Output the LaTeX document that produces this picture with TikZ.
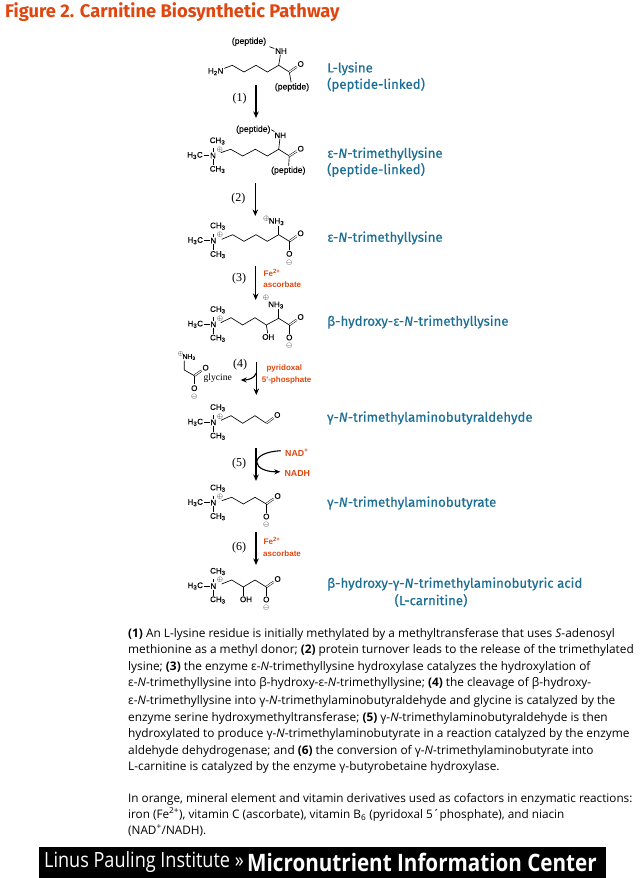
\documentclass[tikz,border=0pt]{standalone}
\usepackage{fontspec}
\usepackage{amssymb}
\usepackage{xcolor}
\usepackage{tikz}
\usetikzlibrary{arrows.meta, positioning, calc}
\setmainfont{Open Sans}
\newfontfamily\chemfont[FakeBold=0.2]{Liberation Sans}
\newfontfamily\cofacfont{Liberation Sans}
\newfontfamily\stepfont{Liberation Serif}
\newfontfamily\namefont[FakeBold=0.5]{Fira Sans}
\newfontfamily\titlefont{Fira Sans}
\newfontfamily\bandfont[FakeStretch=0.86]{Open Sans}
\definecolor{cofactor}{HTML}{E0460F}
\definecolor{namecol}{HTML}{1B6F97}
\tikzset{
  atom/.style={inner sep=0.7pt, font=\chemfont\fontsize{8}{9}\selectfont},
  pepname/.style={inner sep=0.7pt, font=\chemfont\fontsize{8.7}{9}\selectfont},
  charge/.style={inner sep=0pt, font=\fontsize{7.5}{8}\selectfont},
  bond/.style={line width=0.65pt, black},
  dblbond/.style={line width=0.5pt, double, double distance=1.1pt, black},
  rxn/.style={line width=1.3pt, -{Stealth[length=6.5pt,width=5.5pt]}},
  sidearrow/.style={line width=1.1pt, -{Stealth[length=6pt,width=5pt]}},
  stepnum/.style={font=\stepfont\fontsize{12}{14}\selectfont},
  cofac/.style={inner sep=0pt, text=cofactor, font=\cofacfont\bfseries\fontsize{8}{10}\selectfont},
  molname/.style={anchor=west, inner sep=0pt, text=namecol, font=\namefont\fontsize{13.25}{16}\selectfont},
}
% trimethylammonium end: name, x, y of the nitrogen
\newcommand{\headgroup}[3]{%
  \begin{scope}[shift={(#2,#3)}]
    \node[atom] (#1n) at (0,0) {N};
    \node[atom] (#1l) at (-18,0) {H\textsubscript{3}C};
    \node[atom] (#1u) at (4.5,-14.5) {CH\textsubscript{3}};
    \node[atom] (#1d) at (4.5,14) {CH\textsubscript{3}};
    \node[charge] (#1p) at (6.8,-6) {$\oplus$};
    \draw[bond] (#1l) -- (#1n);
    \draw[bond] (#1n.north) -- ++(0,-3.5);
    \draw[bond] (#1n) -- (#1n |- #1d.north);
  \end{scope}}
% carboxylate end: name, x, y of the carbon
\newcommand{\acidgroup}[3]{%
  \begin{scope}[shift={(#2,#3)}]
    \coordinate (#1c) at (0,0);
    \node[atom] (#1o) at (11.3,-8) {O};
    \node[atom] (#1m) at (0,12.5) {O};
    \node[charge] (#1e) at (0,21) {$\ominus$};
    \draw[dblbond] (#1c) -- (#1o);
    \draw[bond] (#1c) -- (#1m);
  \end{scope}}
\begin{document}
\begin{tikzpicture}[x=1pt,y=-1pt]
\useasboundingbox (0,0) rectangle (640,878);
\node[anchor=west, inner sep=0pt, text=cofactor, font=\titlefont\bfseries\fontsize{18.3}{20}\selectfont] (title) at (5,12) {Figure 2. Carnitine Biosynthetic Pathway};

% L-lysine
\node[atom] (aamine) at (215.7,71.7) {H\textsubscript{2}N};
\node[atom] (anh) at (281,51) {NH};
\node[pepname] (apepa) at (249,41.7) {(peptide)};
\node[pepname] (apepb) at (292,87.3) {(peptide)};
\node[atom] (ao) at (300.7,64) {O};
\coordinate (ac) at (289.3,72);
\coordinate (aca) at (278.7,65.3);
\coordinate (apepc) at (269.5,46.7);
\draw[bond] (aamine) -- (232.3,65.3) -- (244,72) -- (256,65.3) -- (267.3,72) -- (aca) -- (ac) -- (apepb);
\draw[bond] (aca) -- (anh);
\draw[bond] (apepc) -- (anh);
\draw[dblbond] (ac) -- (ao);

% peptide-linked trimethyllysine
\headgroup{b}{213}{155.5}
\node[atom] (bnh) at (280.3,135.3) {NH};
\node[pepname] (bpepa) at (253.3,129.7) {(peptide)};
\node[pepname] (bpepb) at (288.3,170.7) {(peptide)};
\node[atom] (bo) at (300.7,148.7) {O};
\coordinate (bc) at (289.3,156);
\coordinate (bca) at (278.7,149.3);
\draw[bond] (220.7,152.7) -- (230.7,149.3) -- (242.7,156) -- (255.3,149.3) -- (267.3,156) -- (bca) -- (bc) -- (bpepb);
\draw[bond] (bca) -- (bnh);
\draw[bond] (bpepa.east) -- (bnh);
\draw[dblbond] (bc) -- (bo);

% free trimethyllysine
\headgroup{c}{213.3}{240.7}
\acidgroup{c}{289.3}{241.3}
\node[atom] (cnh) at (276.5,221.7) {NH\textsubscript{3}};
\node[charge] (cpl) at (266.2,218.7) {$\oplus$};
\coordinate (cca) at (278.7,234.7);
\draw[bond] (221.7,239.3) -- (232.7,234.7) -- (244,241.3) -- (256,234.7) -- (267.3,241.3) -- (cca) -- (cc);
\draw[bond] (cca) -- (cca |- cnh.south);

% beta-hydroxy
\headgroup{d}{213.3}{324.3}
\acidgroup{d}{289.3}{325}
\node[atom] (dnh) at (276,305) {NH\textsubscript{3}};
\node[charge] (dpl) at (266,297.7) {$\oplus$};
\node[atom] (doh) at (268.3,337) {OH};
\coordinate (dca) at (278.7,318.3);
\coordinate (dcb) at (266.3,325);
\draw[bond] (220.7,322.7) -- (231,317.7) -- (242.7,325) -- (255,317.7) -- (dcb) -- (dca) -- (dc);
\draw[bond] (dca) -- (dca |- dnh.south);
\draw[bond] (dcb) -- (doh);

% glycine
\node[atom, inner sep=0.5pt, font=\chemfont\fontsize{6.8}{8}\selectfont] (gnh) at (189,357) {NH\textsubscript{3}};
\node[charge, font=\fontsize{6.5}{8}\selectfont] (gpl) at (180.5,354.3) {$\oplus$};
\acidgroup{g}{194.3}{375.7}
\coordinate (gca) at (184.3,370);
\draw[bond] (gca |- gnh.south) -- (gca) -- (gc);
\node[inner sep=0pt, font=\stepfont\fontsize{9.6}{11}\selectfont] (glycine) at (217.7,378) {glycine};

% aldehyde
\headgroup{e}{213.3}{422.3}
\node[atom] (eo) at (277.3,415) {O};
\coordinate (ec) at (266.3,423.3);
\draw[bond] (221,420.3) -- (231,415.7) -- (242.7,423.3) -- (255,415.7) -- (ec);
\draw[dblbond] (ec) -- (eo);

% butyrate
\headgroup{f}{213.3}{502.7}
\acidgroup{f}{266.3}{504}
\draw[bond] (221.7,500.7) -- (231.7,497.3) -- (243.3,504) -- (255,497.3) -- (fc);

% carnitine
\headgroup{h}{213.3}{586}
\acidgroup{h}{266.3}{587}
\node[atom] (hoh) at (246,599.3) {OH};
\coordinate (hcb) at (243.3,587);
\draw[bond] (221.7,584) -- (231.7,580) -- (hcb) -- (255,580) -- (hc);
\draw[bond] (hcb) -- (hcb |- hoh.north);

% reaction arrows
\foreach \id/\xa/\ya/\yb/\nx/\ny/\num in {1/256/85/118/239.7/99/(1), 2/255.3/183/216/238.3/198.3/(2), 3/255.7/266/300/239/278.3/(3), 4/256.3/362/395/240/365/(4), 5/256/448/481/239/463.3/(5), 6/256/531.5/565/239/547.3/(6)}{
  \coordinate (rs\id) at (\xa,\ya);
  \coordinate (re\id) at (\xa,\yb);
  \draw[rxn] (rs\id) -- (re\id);
  \node[stepnum] (num\id) at (\nx,\ny) {\num};
}
\node[cofac, anchor=west] (fea) at (263.5,273) {Fe\textsuperscript{2+}};
\node[cofac] (asca) at (282.3,284.3) {ascorbate};
\node[cofac] (pyr) at (284.3,368.3) {pyridoxal};
\node[cofac] (pho) at (286.7,380.3) {5'-phosphate};
\node[cofac, anchor=west] (feb) at (263.5,541) {Fe\textsuperscript{2+}};
\node[cofac] (ascb) at (282,553.3) {ascorbate};
\node[cofac, anchor=west, font=\cofacfont\bfseries\fontsize{8.8}{10}\selectfont] (nad) at (285,452.5) {NAD\textsuperscript{+}};
\node[cofac, font=\cofacfont\bfseries\fontsize{8.8}{10}\selectfont] (nadh) at (297.3,473) {NADH};
\coordinate (sidea) at (256.3,373);
\coordinate (sideb) at (240.7,380);
\coordinate (nada) at (280.7,450.7);
\coordinate (nadm) at (256.8,462);
\coordinate (nadb) at (280.3,471.7);
\draw[sidearrow] (sidea) .. controls (254.5,378) and (249,380) .. (sideb);
\draw[sidearrow] (nada) .. controls (266,451.5) and (257,456) .. (nadm) .. controls (257,468) and (266,472) .. (nadb);

% compound names
\node[molname] (nla) at (327,68.7) {L-lysine};
\node[molname] (nlb) at (327,84.7) {(peptide-linked)};
\node[molname] (nma) at (327,154) {ε-\textit{N}-trimethyllysine};
\node[molname] (nmb) at (327,170) {(peptide-linked)};
\node[molname] (nc) at (327,238) {ε-\textit{N}-trimethyllysine};
\node[molname] (nd) at (327,322) {β-hydroxy-ε-\textit{N}-trimethyllysine};
\node[molname] (ne) at (327,418) {γ-\textit{N}-trimethylaminobutyraldehyde};
\node[molname] (nf) at (327,503) {γ-\textit{N}-trimethylaminobutyrate};
\node[molname] (nh) at (327,584) {β-hydroxy-γ-\textit{N}-trimethylaminobutyric acid};
\node[molname, anchor=center] (ni) at (431,600.5) {(L-carnitine)};

% legend text
\node[anchor=north west, inner sep=0pt, align=left, font=\fontsize{11.85}{16.55}\selectfont] (steps) at (128,628) {%
\textbf{(1)} An L-lysine residue is initially methylated by a methyltransferase that uses \textit{S}-adenosyl\\
methionine as a methyl donor; \textbf{(2)} protein turnover leads to the release of the trimethylated\\
lysine; \textbf{(3)} the enzyme ε-\textit{N}-trimethyllysine hydroxylase catalyzes the hydroxylation of\\
ε-\textit{N}-trimethyllysine into β-hydroxy-ε-\textit{N}-trimethyllysine; \textbf{(4)} the cleavage of β-hydroxy-\\[1pt]
ε-\textit{N}-trimethyllysine into γ-\textit{N}-trimethylaminobutyraldehyde and glycine is catalyzed by the\\
enzyme serine hydroxymethyltransferase; \textbf{(5)} γ-\textit{N}-trimethylaminobutyraldehyde is then\\
hydroxylated to produce γ-\textit{N}-trimethylaminobutyrate in a reaction catalyzed by the enzyme\\
aldehyde dehydrogenase; and \textbf{(6)} the conversion of γ-\textit{N}-trimethylaminobutyrate into\\
L-carnitine is catalyzed by the enzyme γ-butyrobetaine hydroxylase.};
\node[anchor=north west, inner sep=0pt, align=left, font=\fontsize{11.75}{16}\selectfont] (note) at (128,793) {%
In orange, mineral element and vitamin derivatives used as cofactors in enzymatic reactions:\\
iron (Fe\textsuperscript{2+}), vitamin C (ascorbate), vitamin B\textsubscript{6} (pyridoxal 5´phosphate), and niacin\\
(NAD\textsuperscript{+}/NADH).};

% footer band
\node[anchor=north west, fill=black, minimum width=567pt, minimum height=31pt, inner sep=0pt] (band) at (39,847) {};
\node[anchor=west, inner sep=0pt, text=white, font=\bandfont\fontsize{21}{24}\selectfont] (lpi) at (44,862) {Linus Pauling Institute »};
\node[anchor=west, inner sep=0pt, text=white, font=\bandfont\bfseries\fontsize{24}{26}\selectfont] (mic) at (247,862) {Micronutrient Information Center};
\end{tikzpicture}
\end{document}
